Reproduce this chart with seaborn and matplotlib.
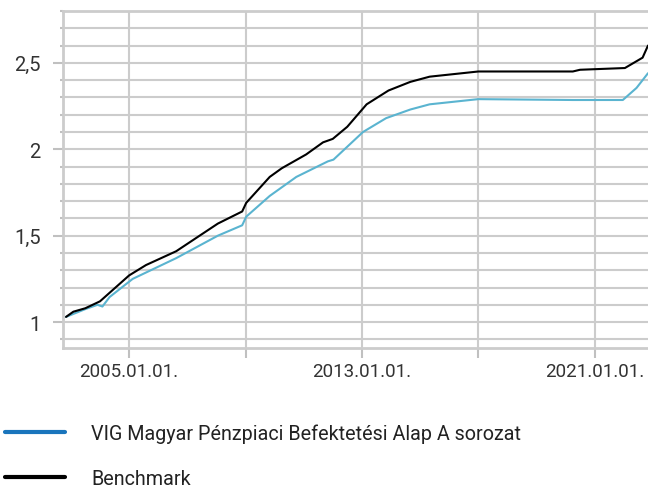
import matplotlib
matplotlib.use("Agg")
import matplotlib.pyplot as plt
from matplotlib.ticker import MultipleLocator, FuncFormatter
from matplotlib.lines import Line2D
import seaborn as sns
import pandas as pd

fund_name = "VIG Magyar Pénzpiaci Befektetési Alap A sorozat"
bench_name = "Benchmark"

bench_dates = ["2002-11-01", "2003-02-01", "2003-07-01", "2004-01-01", "2005-01-01",
               "2005-08-01", "2006-08-15", "2008-01-20", "2008-11-20", "2009-01-10",
               "2009-11-01", "2010-04-01", "2011-02-01", "2011-09-01", "2012-01-01",
               "2012-07-01", "2013-03-01", "2013-12-01", "2014-09-01", "2015-05-01",
               "2017-01-01", "2020-04-01", "2020-07-01", "2022-01-15", "2022-08-25",
               "2022-11-01"]
bench_vals = [1.03, 1.06, 1.08, 1.12, 1.27,
              1.33, 1.41, 1.57, 1.64, 1.69,
              1.84, 1.89, 1.97, 2.04, 2.06,
              2.13, 2.26, 2.34, 2.39, 2.42,
              2.45, 2.45, 2.46, 2.47, 2.53,
              2.60]

fund_dates = ["2002-11-01", "2003-07-01", "2003-12-01", "2004-02-01", "2004-05-01",
              "2005-02-15", "2006-08-15", "2008-01-20", "2008-11-20", "2009-01-10",
              "2009-11-01", "2010-10-01", "2011-11-01", "2012-01-10", "2013-01-15",
              "2013-11-01", "2014-09-01", "2015-05-01", "2017-01-01", "2020-04-01",
              "2021-12-20", "2022-06-10", "2022-11-01"]
fund_vals = [1.03, 1.075, 1.10, 1.09, 1.145,
             1.25, 1.37, 1.50, 1.56, 1.61,
             1.73, 1.84, 1.93, 1.94, 2.10,
             2.18, 2.23, 2.26, 2.29, 2.285,
             2.285, 2.355, 2.44]

df = pd.concat([
    pd.DataFrame({"date": pd.to_datetime(fund_dates), "value": fund_vals, "series": fund_name}),
    pd.DataFrame({"date": pd.to_datetime(bench_dates), "value": bench_vals, "series": bench_name}),
])

sns.set_theme(style="white")
plt.rcParams["font.family"] = ["Roboto", "DejaVu Sans"]

fig = plt.figure(figsize=(6.48, 4.89), dpi=100)
ax = fig.add_axes([63 / 648, 1 - 349 / 489, 1 - 63 / 648, (349 - 12) / 489])

grid_c = "#cccccc"
ax.set_axisbelow(True)
sns.lineplot(data=df, x="date", y="value", hue="series",
             palette={fund_name: "#5ab4d0", bench_name: "#000000"},
             linewidth=1.5, ax=ax, legend=False, estimator=None, sort=True)

ax.set_xlim(pd.Timestamp("2002-09-24"), pd.Timestamp("2022-11-01"))
ax.set_ylim(0.85, 2.8)

ax.yaxis.set_major_locator(MultipleLocator(0.5))
ax.yaxis.set_minor_locator(MultipleLocator(0.1))
ax.yaxis.set_major_formatter(FuncFormatter(lambda v, p: (f"{v:g}").replace(".", ",")))
ax.grid(True, which="both", axis="y", color=grid_c, linewidth=1.5)

xt = pd.to_datetime(["2005-01-01", "2009-01-01", "2013-01-01", "2017-01-01", "2021-01-01"])
ax.set_xticks(xt)
ax.set_xticklabels(["2005.01.01.", "", "2013.01.01.", "", "2021.01.01."])
ax.grid(True, which="major", axis="x", color=grid_c, linewidth=1.5)

ax.spines["right"].set_visible(False)
for s in ["left", "bottom", "top"]:
    ax.spines[s].set_color(grid_c)
    ax.spines[s].set_linewidth(2)

ax.tick_params(axis="y", which="major", length=7, width=1.5, color="#c0c0c0",
               labelsize=14.5, labelcolor="#333333", pad=9, left=True)
ax.tick_params(axis="y", which="minor", length=2, width=1.5, color="#c0c0c0", left=True)
ax.tick_params(axis="x", which="major", length=7, width=1.5, color="#c0c0c0",
               labelsize=13.5, labelcolor="#333333", pad=3, bottom=True)
ax.set_xlabel("")
ax.set_ylabel("")

handles = [Line2D([], [], color="#1a75bc", linewidth=3),
           Line2D([], [], color="#000000", linewidth=3)]
fig.legend(handles, [fund_name, bench_name], loc="upper left",
           bbox_to_anchor=(5 / 648, 1 - 424 / 489), frameon=False,
           fontsize=14.2, handlelength=3.05, handletextpad=1.32, labelspacing=1.35,
           labelcolor="#222222", borderaxespad=0, borderpad=0)

fig.savefig("out.png", dpi=100)
